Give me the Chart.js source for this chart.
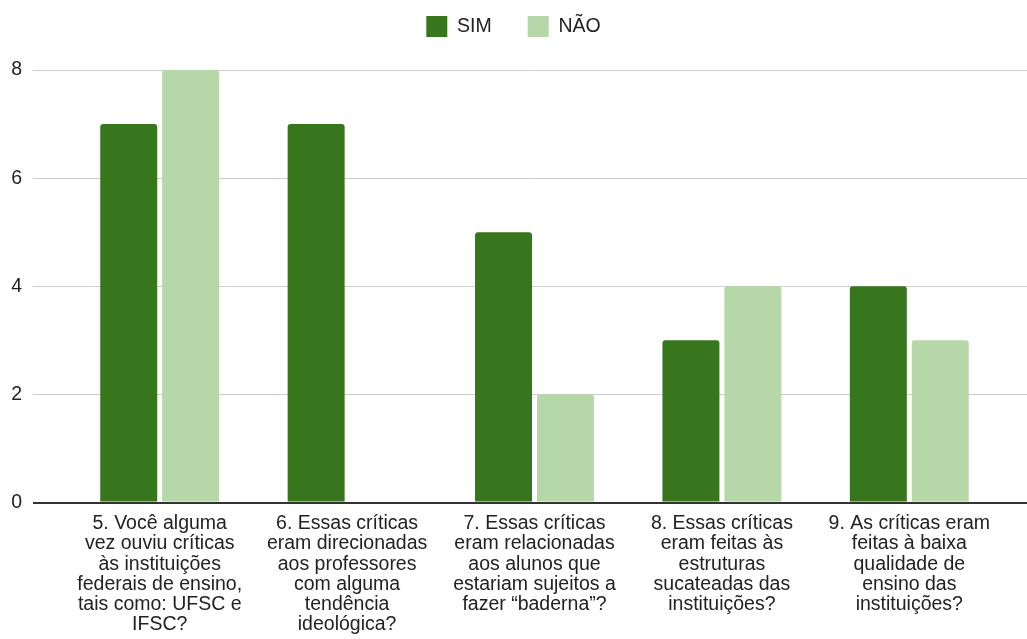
<!DOCTYPE html>
<html>
<head>
<meta charset="utf-8">
<script src="https://cdn.jsdelivr.net/npm/chart.js@4"></script>
<style>
  html, body { margin: 0; padding: 0; background: #fff; }
  #wrap { width: 1027px; height: 639px; }
</style>
</head>
<body>
<div id="wrap"><canvas id="myChart" width="1027" height="639"></canvas></div>
<script>
const categories = [
  ["5. Você alguma", "vez ouviu críticas", "às instituições", "federais de ensino,", "tais como: UFSC e", "IFSC?"],
  ["6. Essas críticas", "eram direcionadas", "aos professores", "com alguma", "tendência", "ideológica?"],
  ["7. Essas críticas", "eram relacionadas", "aos alunos que", "estariam sujeitos a", "fazer “baderna”?"],
  ["8. Essas críticas", "eram feitas às", "estruturas", "sucateadas das", "instituições?"],
  ["9. As críticas eram", "feitas à baixa", "qualidade de", "ensino das", "instituições?"]
];
const simValues = [7, 7, 5, 3, 4];
const naoValues = [8, 0, 2, 4, 3];
const yMin = 0;
const yMax = 8;
const yStep = 2;

const FONT = "'Liberation Sans', Arial, sans-serif";
Chart.defaults.font.family = FONT;
Chart.defaults.color = "#222";

// baseline at zero is darker than the rest of the grid
const gridColor = (ctx) => (ctx.tick && ctx.tick.value === 0 ? "#333" : "#cccccc");
const gridWidth = (ctx) => (ctx.tick && ctx.tick.value === 0 ? 2 : 1);

// extra room between the legend and the plot
const legendGap = {
  id: "legendGap",
  beforeInit(chart) {
    const fit = chart.legend.fit;
    chart.legend.fit = function () {
      fit.bind(chart.legend)();
      this.height += 23;
    };
  },
};

const chart = new Chart(document.getElementById("myChart"), {
  type: "bar",
  data: {
    labels: categories,
    datasets: [
      {
        label: "SIM",
        data: simValues,
        backgroundColor: "#38761d",
        borderRadius: 3,
        categoryPercentage: 0.661,
        barPercentage: 0.92,
      },
      {
        label: "NÃO",
        data: naoValues,
        backgroundColor: "#b6d7a8",
        borderRadius: 3,
        categoryPercentage: 0.661,
        barPercentage: 0.92,
      },
    ],
  },
  plugins: [legendGap],
  options: {
    responsive: false,
    animation: false,
    layout: { padding: { top: -20, left: 0, right: 0, bottom: 0 } },
    plugins: {
      legend: {
        position: "top",
        labels: {
          boxWidth: 21,
          boxHeight: 21,
          padding: 36,
          font: { size: 19.5 },
          color: "#222",
        },
      },
      tooltip: { enabled: false },
    },
    scales: {
      x: {
        grid: { display: false, drawTicks: false },
        border: { display: false },
        ticks: {
          padding: 11,
          maxRotation: 0,
          autoSkip: false,
          font: { size: 19.5, lineHeight: 1.04 },
          color: "#222",
        },
        afterFit(scale) { scale.height = 136.5; },
      },
      y: {
        position: "left",
        min: yMin,
        max: yMax,
        ticks: { stepSize: yStep, padding: 11, font: { size: 19.5 }, color: "#222" },
        grid: { color: gridColor, lineWidth: gridWidth, tickLength: 33 },
        border: { display: false },
        afterFit(scale) { scale.width = 66; },
      },
      yRight: {
        position: "right",
        min: yMin,
        max: yMax,
        ticks: { stepSize: yStep, display: false },
        grid: { color: gridColor, lineWidth: gridWidth, tickLength: 24, drawOnChartArea: false },
        border: { display: false },
        afterFit(scale) { scale.width = 24; },
      },
    },
  },
});
</script>
</body>
</html>
